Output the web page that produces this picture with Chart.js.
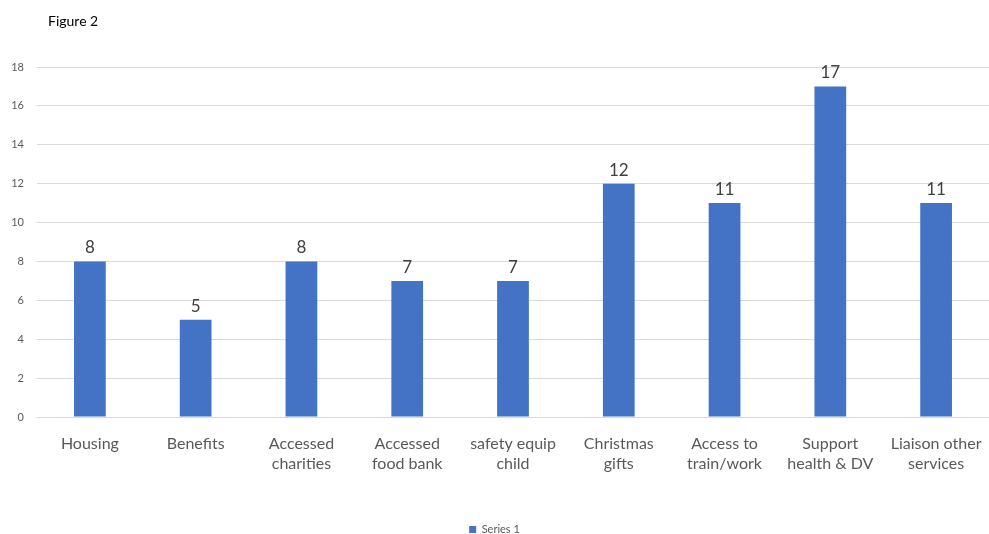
<!DOCTYPE html>
<html><head><meta charset="utf-8">
<script src="https://cdn.jsdelivr.net/npm/chart.js@4/dist/chart.umd.min.js"></script>
<style>html,body{margin:0;padding:0;background:#fff;}#wrap{width:989px;height:534px;position:relative;}</style>
</head><body><div id="wrap"><canvas id="c" width="989" height="534"></canvas></div>
<script>
const categories = [["Housing"],["Benefits"],["Accessed","charities"],["Accessed","food bank"],["safety equip","child"],["Christmas","gifts"],["Access to","train/work"],["Support","health & DV"],["Liaison other","services"]];
const series1 = [8,5,8,7,7,12,11,17,11];
const seriesName = "Series 1";
const chartTitle = "Figure 2";
const FONT = "Lato, 'Open Sans', sans-serif";

const labelPlugin = {
  id: 'labels',
  afterDatasetsDraw(chart){
    const ctx = chart.ctx;
    const meta = chart.getDatasetMeta(0);
    ctx.save();
    ctx.font = "17px " + FONT;
    ctx.fillStyle = "#404040";
    ctx.textAlign = "center";
    ctx.textBaseline = "alphabetic";
    meta.data.forEach((bar,i)=>{
      ctx.fillText(String(series1[i]), bar.x, bar.y - 8);
    });
    ctx.fillStyle = "#000";
    ctx.font = "14px " + FONT;
    ctx.textAlign = "left";
    ctx.textBaseline = "middle";
    ctx.fillText(chartTitle, 48, 21);
    ctx.restore();
  }
};

new Chart(document.getElementById('c'), {
  type: 'bar',
  data: { labels: categories, datasets: [{ label: seriesName, data: series1, backgroundColor: '#4472C4', borderWidth: 0, barPercentage: 0.3, categoryPercentage: 1 }] },
  options: {
    responsive: false, animation: false,
    layout: { autoPadding: false, padding: { top: 67, left: 0, right: 0, bottom: -11 } },
    plugins: {
      legend: { position: 'bottom', labels: { font: { family: FONT, size: 11 }, color: '#595959', boxWidth: 7, boxHeight: 7, padding: 4 } },
      tooltip: { enabled: false }
    },
    scales: {
      y: {
        min: 0, max: 18,
        ticks: { stepSize: 2, font: { family: FONT, size: 11 }, color: '#595959', padding: 13 },
        grid: { color: '#d9d9d9', drawTicks: false },
        border: { display: false },
        afterFit(s){ s.width = 37; }
      },
      x: {
        ticks: { font: { family: FONT, size: 16, lineHeight: 1.3 }, color: '#595959', padding: 16, maxRotation: 0, autoSkip: false },
        grid: { display: false, drawTicks: false },
        border: { color: '#d9d9d9' },
        afterFit(s){ s.height = 103; s.paddingLeft = 0; s.paddingRight = 0; }
      }
    }
  },
  plugins: [labelPlugin]
});
</script></body></html>
